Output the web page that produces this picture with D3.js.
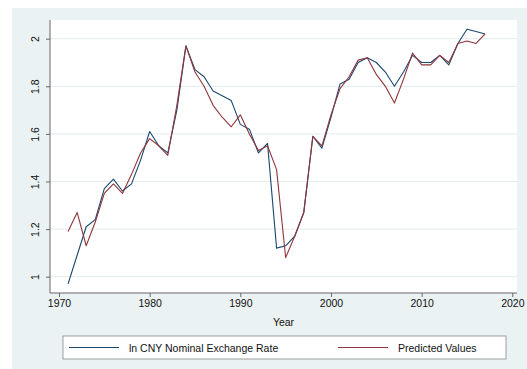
<!DOCTYPE html>
<html><head><meta charset="utf-8">
<script src="https://cdn.jsdelivr.net/npm/d3@7"></script>
<style>body{margin:0;background:#fff}svg{display:block}text{font-family:"Liberation Sans",Arial,sans-serif;fill:#111}</style>
</head><body>
<svg id="c" width="527" height="369"></svg>
<script>
const years = d3.range(1971, 2018);
const actual = [0.97,1.09,1.21,1.24,1.37,1.41,1.36,1.39,1.49,1.61,1.55,1.52,1.70,1.97,1.87,1.84,1.78,1.76,1.74,1.64,1.62,1.52,1.56,1.12,1.13,1.17,1.27,1.59,1.54,1.67,1.81,1.83,1.90,1.92,1.90,1.86,1.80,1.86,1.93,1.90,1.90,1.93,1.89,1.98,2.04,2.03,2.02];
const predicted = [1.19,1.27,1.13,1.23,1.35,1.39,1.35,1.43,1.52,1.58,1.55,1.51,1.72,1.97,1.86,1.80,1.72,1.67,1.63,1.68,1.60,1.53,1.55,1.45,1.08,1.17,1.27,1.59,1.55,1.68,1.79,1.84,1.91,1.92,1.85,1.80,1.73,1.83,1.94,1.89,1.89,1.93,1.90,1.98,1.99,1.98,2.02];
const xTicks = [1970,1980,1990,2000,2010,2020];
const yTicks = [1,1.2,1.4,1.6,1.8,2];
const yTickLabels = ["1","1.2","1.4","1.6","1.8","2"];
const seriesNames = ["ln CNY Nominal Exchange Rate","Predicted Values"];
const colors = ["#1a476f","#90353b"];

const svg = d3.select("#c");
// graph region
svg.append("rect").attr("x",12).attr("y",8).attr("width",515).attr("height",361).attr("fill","#eaf2f3");
const plot = {l:50, r:517, t:20, b:293};
svg.append("rect").attr("x",plot.l).attr("y",plot.t).attr("width",plot.r-plot.l).attr("height",plot.b-plot.t).attr("fill","#fff");

const x = d3.scaleLinear().domain([1970,2020]).range([59,512.3]);
const y = d3.scaleLinear().domain([1,2]).range([276.7,38.7]);

// gridlines
svg.append("g").selectAll("line").data(yTicks).join("line")
  .attr("x1",plot.l).attr("x2",plot.r).attr("y1",d=>y(d)).attr("y2",d=>y(d))
  .attr("stroke","#e4ecee").attr("stroke-width",1);

// axes
const yAxis = d3.axisLeft(y).tickValues(yTicks).tickFormat((d,i)=>yTickLabels[i]).tickSize(4).tickPadding(3);
const gy = svg.append("g").attr("transform",`translate(${plot.l},0)`).call(yAxis);
gy.select(".domain").remove();
gy.append("line").attr("x1",0).attr("x2",0).attr("y1",plot.t).attr("y2",plot.b).attr("stroke","#666");
gy.selectAll(".tick line").attr("stroke","#666");
gy.selectAll(".tick text").attr("font-size",10.5).attr("fill","#333")
  .attr("transform",function(d){return `rotate(-90,-13,${0})`;}).attr("x",-13).attr("dy","0").attr("text-anchor","middle").attr("dominant-baseline","central");
gy.selectAll(".tick text").attr("transform","rotate(-90)").attr("x",0).attr("y",-15);

const xAxis = d3.axisBottom(x).tickValues(xTicks).tickFormat(d3.format("d")).tickSize(4).tickPadding(3);
const gx = svg.append("g").attr("transform",`translate(0,${plot.b})`).call(xAxis);
gx.select(".domain").remove();
gx.append("line").attr("x1",plot.l).attr("x2",plot.r).attr("y1",0).attr("y2",0).attr("stroke","#666");
gx.selectAll(".tick line").attr("stroke","#666");
gx.selectAll(".tick text").attr("font-size",10.5).attr("fill","#333");

svg.append("text").attr("x",(plot.l+plot.r)/2).attr("y",326).attr("text-anchor","middle").attr("font-size",10.5).attr("fill","#333").text("Year");

// lines
const line = d3.line().x((d,i)=>x(years[i])).y(d=>y(d));
[actual,predicted].forEach((s,k)=>{
  svg.append("path").datum(s).attr("d",line).attr("fill","none").attr("stroke",colors[k]).attr("stroke-width",1.1).attr("stroke-linejoin","round");
});

// legend
const lg = svg.append("g");
lg.append("rect").attr("x",63).attr("y",336).attr("width",443).attr("height",23).attr("fill","#fff").attr("stroke","#888").attr("stroke-width",0.8);
const keyX = [69,338];
seriesNames.forEach((n,k)=>{
  lg.append("line").attr("x1",keyX[k]).attr("x2",keyX[k]+50).attr("y1",347.5).attr("y2",347.5).attr("stroke",colors[k]).attr("stroke-width",1.1);
  lg.append("text").attr("x",keyX[k]+60).attr("y",351.5).attr("font-size",10.5).attr("fill","#333").text(n);
});
</script>
</body></html>
